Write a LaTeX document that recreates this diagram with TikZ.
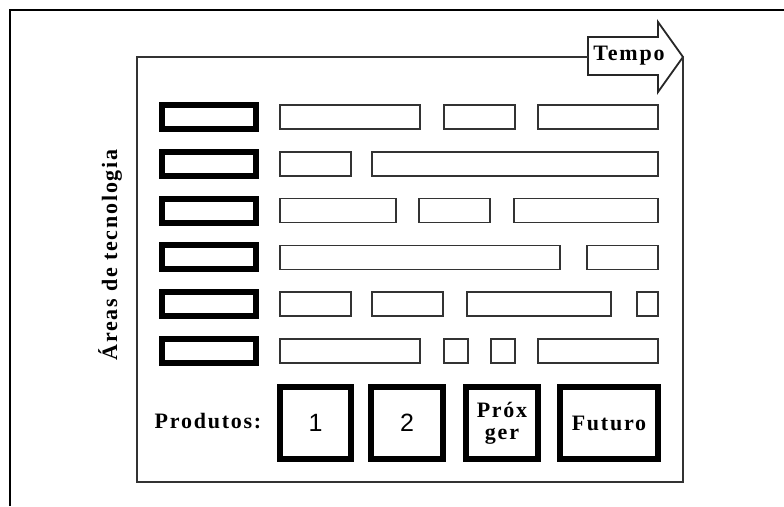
\documentclass[tikz,border=0pt]{standalone}
\usepackage{fontspec}
\setmainfont{Liberation Serif}
\newfontfamily\digitfont{Liberation Sans}
\begin{document}
\begin{tikzpicture}[x=1pt, y=-1pt,
    lbl/.style={inner sep=0pt, font=\fontsize{22}{22}\selectfont\bfseries\addfontfeature{LetterSpace=8}},
    area/.style={draw, line width=6pt, minimum width=94pt, minimum height=24pt, inner sep=0pt, outer sep=0pt},
    fase/.style={draw=black!80, line width=1.5pt, minimum height=24pt, inner sep=0pt, outer sep=0pt},
    prod/.style={draw, line width=6pt, minimum height=72pt, inner sep=0pt, outer sep=0pt, align=center}]
        \useasboundingbox (0,0) rectangle (784,506);
        \draw[line width=2pt] (10,506) -- (10,10) -- (784,10);
        % arrow with the time label
        \coordinate (tail) at (588,57);
        \coordinate (tip) at (683,57);
        \draw[line width=1.8pt, black!85, line join=miter] (588,37) -- (658,37) -- (658,22) -- (tip) -- (658,92) -- (658,75) -- (588,75) -- cycle;
        \node[lbl] (tempo) at (629,56) {Tempo};
        \draw[line width=1.5pt, black!80] (tail) -- (137,57) -- (137,482) -- (683,482) -- (tip);
        \node[lbl, rotate=90] (areas) at (110,255) {Áreas de tecnologia};
        % technology areas and their phases
        \foreach \r in {1,...,6}
            \node[area] (a\r) at (209,{70.2+46.8*\r}) {};
        \foreach \segs [count=\r] in {{280/420,444/515,538/658}, {280/351,372/658},
                {280/396,419/490,514/658}, {280/560,587/658},
                {280/351,372/443,467/611,637/658}, {280/420,444/468,491/515,538/658}}
            \foreach \a/\b [count=\c] in \segs
                \node[fase, minimum width={\b-\a}] (f\r\c) at ({(\a+\b)/2},{70.2+46.8*\r}) {};
        % products
        \node[lbl] (produtos) at (208,421) {Produtos:};
        \node[prod, minimum width=71pt] (p1) at (315.5,423) {\digitfont\fontsize{25}{25}\selectfont 1};
        \node[prod, minimum width=72pt] (p2) at (407,423) {\digitfont\fontsize{25}{25}\selectfont 2};
        \node[prod, minimum width=72pt, lbl] (p3) at (502,423) {Próx\\ger};
        \node[prod, minimum width=98pt, lbl] (p4) at (609,423) {Futuro};
    \end{tikzpicture}
\end{document}
